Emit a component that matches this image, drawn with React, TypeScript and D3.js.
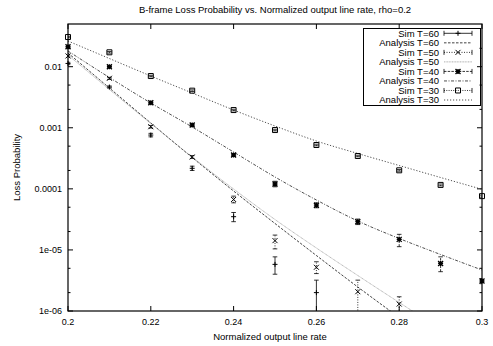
import React from 'react';
import * as d3 from 'd3';

// Data

const rates = [0.2, 0.21, 0.22, 0.23, 0.24, 0.25, 0.26, 0.27, 0.28, 0.29, 0.3];

// simulation points: value, lower and upper end of the error bar
const simT60 = [0.0113, 0.00464, 0.00076, 0.000217, 3.5e-5, 5.8e-6, 2.0e-6];
const simT60Low = [0.0108, 0.00445, 0.00071, 0.0002, 2.9e-5, 4.0e-6, 3e-7];
const simT60High = [0.0118, 0.00484, 0.00081, 0.000235, 4.1e-5, 7.7e-6, 3.2e-6];

const simT50 = [0.015, 0.00646, 0.00104, 0.000332, 6.7e-5, 1.42e-5, 5.2e-6, 2.07e-6, 1.3e-6];
const simT50Low = [0.0145, 0.0062, 0.00099, 0.000315, 5.9e-5, 1.04e-5, 4.1e-6, 3e-7, 3e-7];
const simT50High = [0.0155, 0.0067, 0.00109, 0.00035, 7.6e-5, 1.75e-5, 6.4e-6, 3.2e-6, 1.71e-6];

const simT40 = [0.0212, 0.01, 0.00257, 0.00111, 0.000358, 0.00012, 5.4e-5, 2.9e-5, 1.49e-5, 6.0e-6, 3.1e-6];
const simT40Low = [0.0205, 0.0097, 0.00248, 0.00106, 0.00034, 0.000108, 4.9e-5, 2.6e-5, 1.13e-5, 4.4e-6, 2.8e-6];
const simT40High = [0.0219, 0.0103, 0.00266, 0.00116, 0.000376, 0.000133, 5.9e-5, 3.2e-5, 1.8e-5, 7.7e-6, 3.4e-6];

const simT30 = [0.0306, 0.0172, 0.00703, 0.00405, 0.00195, 0.000918, 0.000522, 0.000345, 0.000201, 0.000116, 7.6e-5];
const simT30Low = [0.0297, 0.0167, 0.00682, 0.00393, 0.00189, 0.00089, 0.000506, 0.000335, 0.000195, 0.000112, 7.3e-5];
const simT30High = [0.0315, 0.0177, 0.00724, 0.00417, 0.00201, 0.000946, 0.000538, 0.000355, 0.000207, 0.00012, 7.9e-5];

// analysis curves
const anaT60 = [0.01675, 0.004477, 0.001197, 0.0003258, 9.218e-5, 2.707e-5, 8.102e-6, 2.471e-6, 7.826e-7];
const anaT50 = [0.01553, 0.00423, 0.001174, 0.000332, 9.94e-5, 3.148e-5, 1.075e-5, 3.813e-6, 1.378e-6, 5.074e-7];
const anaT40 = [0.01806, 0.00665, 0.002543, 0.001029, 0.0004009, 0.0001563, 6.569e-5, 2.975e-5, 1.538e-5, 8.414e-6, 4.691e-6];
const anaT30 = [0.02633, 0.01361, 0.007037, 0.003708, 0.001953, 0.001069, 0.000607, 0.000379, 0.000241, 0.0001533, 9.83e-5];

const xTicks = [0.2, 0.22, 0.24, 0.26, 0.28, 0.3];
const xTickLabels = ['0.2', '0.22', '0.24', '0.26', '0.28', '0.3'];
const yTicks = [1e-6, 1e-5, 1e-4, 1e-3, 1e-2];
const yTickLabels = ['1e-06', '1e-05', '0.0001', '0.001', '0.01'];
const yMinorTicks = [2e-6, 5e-6, 2e-5, 5e-5, 2e-4, 5e-4, 2e-3, 5e-3, 2e-2];

const legendLabels = ['Sim T=60', 'Analysis T=60', 'Sim T=50', 'Analysis T=50', 'Sim T=40', 'Analysis T=40', 'Sim T=30', 'Analysis T=30'];

type PointKind = 'plus' | 'cross' | 'star' | 'box';

type Sim = { vals: number[]; low: number[]; high: number[]; kind: PointKind; dash: string };
type Ana = { vals: number[]; dash: string; color: string };

const sims: Sim[] = [
    { vals: simT60, low: simT60Low, high: simT60High, kind: 'plus', dash: 'none' },
    { vals: simT50, low: simT50Low, high: simT50High, kind: 'cross', dash: '1,1.5' },
    { vals: simT40, low: simT40Low, high: simT40High, kind: 'star', dash: '2.5,1.2' },
    { vals: simT30, low: simT30Low, high: simT30High, kind: 'box', dash: '1,1.3' },
];

const anas: Ana[] = [
    { vals: anaT60, dash: '2.5,1.5', color: '#111' },
    { vals: anaT50, dash: '1,0.6', color: '#999' },
    { vals: anaT40, dash: '3,1.5,1,1.5', color: '#222' },
    { vals: anaT30, dash: '1.2,1.8', color: '#222' },
];

const W = 493;
const H = 346;
const left = 68, right = 482, top = 24, bottom = 311;
const font = "'Liberation Sans', Arial, sans-serif";

function symbolPath(kind: PointKind, cx: number, cy: number): string {
    const s = 2.5;
    const plus = `M${cx - s},${cy}H${cx + s}M${cx},${cy - s}V${cy + s}`;
    const cross = `M${cx - s},${cy - s}L${cx + s},${cy + s}M${cx - s},${cy + s}L${cx + s},${cy - s}`;
    if (kind === 'plus') return plus;
    if (kind === 'cross') return cross;
    if (kind === 'star') return plus + cross;
    return `M${cx - s},${cy - s}H${cx + s}V${cy + s}H${cx - s}Z`;
}

function LossChart() {
    const ref = React.useRef<SVGSVGElement>(null);

    React.useEffect(() => {
        const svg = d3.select(ref.current);
        svg.selectAll('*').remove();

        const x = d3.scaleLinear().domain([0.2, 0.3]).range([left, right]);
        const y = d3.scaleLog().domain([1e-6, 0.05]).range([bottom, top]);

        svg.append('rect').attr('width', W).attr('height', H).attr('fill', '#fff');

        svg.append('clipPath').attr('id', 'plotClip')
            .append('rect')
            .attr('x', left).attr('y', top)
            .attr('width', right - left).attr('height', bottom - top);

        const txt = svg.append('g').attr('font-family', font).attr('fill', '#000');

        // title & axis labels
        txt.append('text')
            .attr('x', 275).attr('y', 13)
            .attr('text-anchor', 'middle').attr('font-size', 9.5)
            .text('B-frame Loss Probability vs. Normalized output line rate, rho=0.2');
        txt.append('text')
            .attr('x', 270).attr('y', 340)
            .attr('text-anchor', 'middle').attr('font-size', 9.5)
            .text('Normalized output line rate');
        txt.append('text')
            .attr('transform', `translate(20,${(top + bottom) / 2}) rotate(-90)`)
            .attr('text-anchor', 'middle').attr('font-size', 9.5)
            .text('Loss Probability');

        // ticks
        const axes = svg.append('g').attr('stroke', '#000').attr('stroke-width', 1);
        xTicks.forEach((t, i) => {
            const px = x(t);
            axes.append('line').attr('x1', px).attr('x2', px).attr('y1', bottom).attr('y2', bottom - 5);
            axes.append('line').attr('x1', px).attr('x2', px).attr('y1', top).attr('y2', top + 5);
            txt.append('text')
                .attr('x', px).attr('y', 325)
                .attr('text-anchor', 'middle').attr('font-size', 9)
                .text(xTickLabels[i]);
        });
        yTicks.forEach((t, i) => {
            const py = y(t);
            axes.append('line').attr('x1', left).attr('x2', left + 5).attr('y1', py).attr('y2', py);
            axes.append('line').attr('x1', right).attr('x2', right - 5).attr('y1', py).attr('y2', py);
            txt.append('text')
                .attr('x', 62).attr('y', py).attr('dy', '0.35em')
                .attr('text-anchor', 'end').attr('font-size', 9)
                .text(yTickLabels[i]);
        });
        yMinorTicks.forEach((t) => {
            const py = y(t);
            axes.append('line').attr('x1', left).attr('x2', left + 2.5).attr('y1', py).attr('y2', py);
            axes.append('line').attr('x1', right).attr('x2', right - 2.5).attr('y1', py).attr('y2', py);
        });

        const plot = svg.append('g').attr('clip-path', 'url(#plotClip)').attr('fill', 'none');
        const marks = svg.append('g').attr('fill', 'none');

        const line = d3.line<number>()
            .x((_, i) => x(rates[i]))
            .y((d) => y(d))
            .curve(d3.curveMonotoneX);

        // legend geometry
        const rowY = (i: number) => 33.3 + i * 9.53;
        const sx0 = 444, sx1 = 472;
        const leg = svg.append('g').attr('fill', 'none');

        legendLabels.forEach((label, i) => {
            txt.append('text')
                .attr('x', 439).attr('y', rowY(i)).attr('dy', '0.35em')
                .attr('text-anchor', 'end').attr('font-size', 9.5)
                .text(label);
        });

        sims.forEach((s, k) => {
            const g = plot.append('g').attr('stroke', '#000').attr('stroke-width', 0.8);
            s.vals.forEach((v, i) => {
                const px = x(rates[i]);
                const yl = y(s.low[i]);
                const yh = y(s.high[i]);
                g.append('line').attr('x1', px).attr('x2', px).attr('y1', yl).attr('y2', yh)
                    .attr('stroke-dasharray', s.dash);
                g.append('path').attr('d', `M${px - 2.3},${yl}H${px + 2.3}M${px - 2.3},${yh}H${px + 2.3}`);
                marks.append('path').attr('d', symbolPath(s.kind, px, y(v)))
                    .attr('stroke', '#000')
                    .attr('stroke-width', s.kind === 'star' ? 1.3 : 1);
            });

            const ly = rowY(k * 2);
            const lg = leg.append('g').attr('stroke', '#000').attr('stroke-width', 0.8);
            lg.append('line').attr('x1', sx0).attr('x2', sx1).attr('y1', ly).attr('y2', ly)
                .attr('stroke-dasharray', s.dash);
            lg.append('path').attr('d', `M${sx0},${ly - 2.5}V${ly + 2.5}M${sx1},${ly - 2.5}V${ly + 2.5}`);
            lg.append('path').attr('d', symbolPath(s.kind, (sx0 + sx1) / 2, ly))
                .attr('stroke-width', s.kind === 'star' ? 1.3 : 1);
        });

        anas.forEach((a, k) => {
            plot.append('path')
                .attr('d', line(a.vals))
                .attr('stroke', a.color)
                .attr('stroke-width', 0.8)
                .attr('stroke-dasharray', a.dash);

            const ly = rowY(k * 2 + 1);
            leg.append('line').attr('x1', sx0).attr('x2', sx1).attr('y1', ly).attr('y2', ly)
                .attr('stroke', a.color).attr('stroke-width', 0.8)
                .attr('stroke-dasharray', a.dash);
        });

        // legend box
        svg.append('rect')
            .attr('x', 363.5).attr('y', 28.5)
            .attr('width', 117).attr('height', 77)
            .attr('fill', 'none').attr('stroke', '#000').attr('stroke-width', 1);

        // border
        svg.append('rect')
            .attr('x', left).attr('y', top)
            .attr('width', right - left).attr('height', bottom - top)
            .attr('fill', 'none').attr('stroke', '#000').attr('stroke-width', 1.2);
    }, []);

    return (
        <svg ref={ref} width={W} height={H} style={{ position: 'absolute', left: 0, top: 0 }} />
    );
}

export default function App() {
    return <LossChart />;
}
